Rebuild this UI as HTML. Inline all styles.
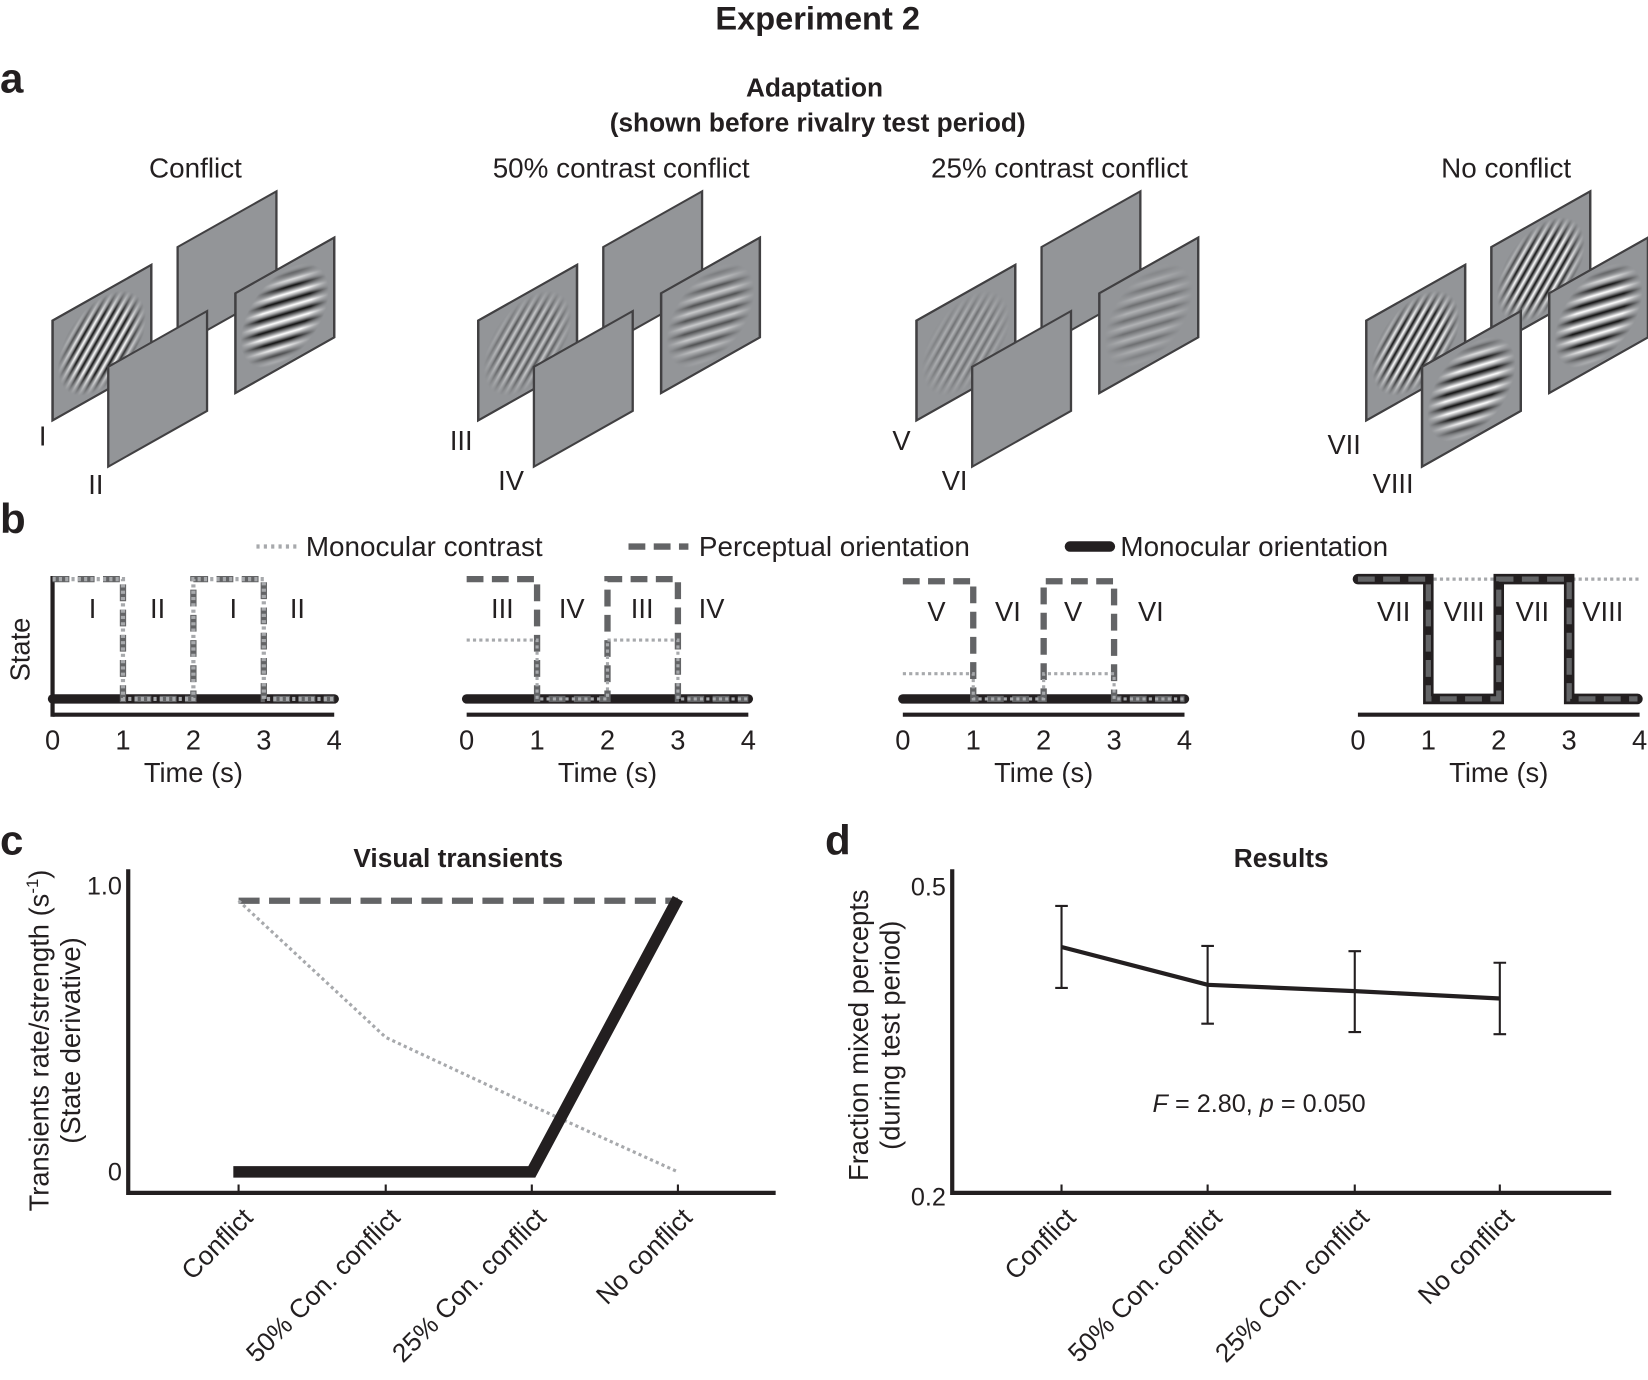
<!DOCTYPE html>
<html><head><meta charset="utf-8"><style>html,body{margin:0;padding:0;background:#fff}svg{display:block}text{font-family:"Liberation Sans",Arial,sans-serif;fill:#231f20}</style></head>
<body>
<svg width="1648" height="1380" viewBox="0 0 1568 1313" xmlns="http://www.w3.org/2000/svg">
<defs>
<linearGradient id="sg" x1="0" x2="1" y1="0" y2="0">
<stop offset="0" stop-color="#9a9b9d"/><stop offset="0.2" stop-color="#fff"/><stop offset="0.45" stop-color="#9a9b9d"/><stop offset="0.7" stop-color="#111"/><stop offset="1" stop-color="#9a9b9d"/>
</linearGradient>
<pattern id="pA" patternUnits="userSpaceOnUse" width="9" height="200" patternTransform="rotate(40)"><rect width="9" height="200" fill="url(#sg)"/></pattern>
<pattern id="pB" patternUnits="userSpaceOnUse" width="200" height="12" patternTransform="rotate(15)"><rect width="200" height="12" fill="url(#sg2)"/></pattern>
<linearGradient id="sg2" x1="0" x2="0" y1="0" y2="1">
<stop offset="0" stop-color="#9a9b9d"/><stop offset="0.2" stop-color="#fff"/><stop offset="0.45" stop-color="#9a9b9d"/><stop offset="0.7" stop-color="#111"/><stop offset="1" stop-color="#9a9b9d"/>
</linearGradient>
<radialGradient id="rg"><stop offset="0" stop-color="#fff"/><stop offset="0.6" stop-color="#fff"/><stop offset="1" stop-color="#000"/></radialGradient>
<mask id="mk" maskUnits="userSpaceOnUse" x="0" y="0" width="94" height="95"><ellipse cx="47" cy="48" rx="42" ry="44" fill="url(#rg)"/></mask>
<g id="pl"><rect width="94" height="95" fill="#939598" stroke="#414042" stroke-width="2.2"/></g>
<g id="gA"><use href="#pl"/><rect width="94" height="95" fill="url(#pA)" mask="url(#mk)"/><rect width="94" height="95" fill="none" stroke="#414042" stroke-width="2.2"/></g>
<g id="gB"><use href="#pl"/><rect width="94" height="95" fill="url(#pB)" mask="url(#mk)"/><rect width="94" height="95" fill="none" stroke="#414042" stroke-width="2.2"/></g>
<g id="gA5"><use href="#pl"/><rect width="94" height="95" fill="url(#pA)" mask="url(#mk)" opacity="0.5"/><rect width="94" height="95" fill="none" stroke="#414042" stroke-width="2.2"/></g>
<g id="gB5"><use href="#pl"/><rect width="94" height="95" fill="url(#pB)" mask="url(#mk)" opacity="0.5"/><rect width="94" height="95" fill="none" stroke="#414042" stroke-width="2.2"/></g>
<g id="gA2"><use href="#pl"/><rect width="94" height="95" fill="url(#pA)" mask="url(#mk)" opacity="0.28"/><rect width="94" height="95" fill="none" stroke="#414042" stroke-width="2.2"/></g>
<g id="gB2"><use href="#pl"/><rect width="94" height="95" fill="url(#pB)" mask="url(#mk)" opacity="0.28"/><rect width="94" height="95" fill="none" stroke="#414042" stroke-width="2.2"/></g>
</defs>

<text x="778" y="28" font-size="31" font-weight="bold" text-anchor="middle">Experiment 2</text>
<text x="0" y="88" font-size="40" font-weight="bold">a</text>
<text x="775" y="92" font-size="25" font-weight="bold" text-anchor="middle">Adaptation</text>
<text x="778" y="125" font-size="25" font-weight="bold" text-anchor="middle">(shown before rivalry test period)</text>
<g font-size="26.5" text-anchor="middle">
<text x="186" y="169">Conflict</text>
<text x="591" y="169">50% contrast conflict</text>
<text x="1008" y="169">25% contrast conflict</text>
<text x="1433" y="169">No conflict</text>
</g>

<g>
<use href="#gA" transform="matrix(1,-0.564,0,1,50,305)"/>
<use href="#pl" transform="matrix(1,-0.564,0,1,169,235)"/>
<use href="#pl" transform="matrix(1,-0.564,0,1,103,349)"/>
<use href="#gB" transform="matrix(1,-0.564,0,1,224,279)"/>
</g>
<g transform="translate(405,0)">
<use href="#gA5" transform="matrix(1,-0.564,0,1,50,305)"/>
<use href="#pl" transform="matrix(1,-0.564,0,1,169,235)"/>
<use href="#pl" transform="matrix(1,-0.564,0,1,103,349)"/>
<use href="#gB5" transform="matrix(1,-0.564,0,1,224,279)"/>
</g>
<g transform="translate(822,0)">
<use href="#gA2" transform="matrix(1,-0.564,0,1,50,305)"/>
<use href="#pl" transform="matrix(1,-0.564,0,1,169,235)"/>
<use href="#pl" transform="matrix(1,-0.564,0,1,103,349)"/>
<use href="#gB2" transform="matrix(1,-0.564,0,1,224,279)"/>
</g>
<g transform="translate(1250,0)">
<use href="#gA" transform="matrix(1,-0.564,0,1,50,305)"/>
<use href="#gA" transform="matrix(1,-0.564,0,1,169,235)"/>
<use href="#gB" transform="matrix(1,-0.564,0,1,103,349)"/>
<use href="#gB" transform="matrix(1,-0.564,0,1,224,279)"/>
</g>
<g font-size="26">
<text x="37" y="424">I</text><text x="84" y="470">II</text>
<text x="428" y="428">III</text><text x="474" y="466">IV</text>
<text x="849" y="428">V</text><text x="896" y="466">VI</text>
<text x="1263" y="432">VII</text><text x="1306" y="469">VIII</text>
</g>

<!-- panel b -->
<text x="0" y="507" font-size="40" font-weight="bold">b</text>
<line x1="244" y1="520" x2="282" y2="520" stroke="#a7a9ac" stroke-width="4" stroke-dasharray="3 4"/>
<text x="291" y="529" font-size="26.5">Monocular contrast</text>
<line x1="598" y1="520" x2="655" y2="520" stroke="#636466" stroke-width="6" stroke-dasharray="16 8"/>
<text x="665" y="529" font-size="26.5">Perceptual orientation</text>
<line x1="1018" y1="520" x2="1056" y2="520" stroke="#231f20" stroke-width="10" stroke-linecap="round"/>
<text x="1066" y="529" font-size="26.5">Monocular orientation</text>
<text transform="translate(28,618) rotate(-90)" font-size="26" text-anchor="middle">State</text>

<g transform="translate(50,0)">
<line x1="0" y1="548" x2="0" y2="682" stroke="#231f20" stroke-width="4"/>
<line x1="0" y1="680" x2="268" y2="680" stroke="#231f20" stroke-width="4"/>
<line x1="0" y1="665" x2="268" y2="665" stroke="#231f20" stroke-width="9" stroke-linecap="round"/>
<polyline points="0,551 67,551 67,665 134,665 134,551 201,551 201,665 268,665" fill="none" stroke="#636466" stroke-width="6" stroke-dasharray="16 8"/>
<polyline points="0,551 67,551 67,665 134,665 134,551 201,551 201,665 268,665" fill="none" stroke="#a7a9ac" stroke-width="4" stroke-dasharray="3 3"/>
<g font-size="26" text-anchor="middle"><text x="38" y="588">I</text><text x="100" y="588">II</text><text x="172" y="588">I</text><text x="233" y="588">II</text></g>
</g>
<g transform="translate(444,0)">
<line x1="0" y1="680" x2="268" y2="680" stroke="#231f20" stroke-width="4"/>
<line x1="0" y1="665" x2="268" y2="665" stroke="#231f20" stroke-width="9" stroke-linecap="round"/>
<polyline points="0,551 67,551 67,665 134,665 134,551 201,551 201,665 268,665" fill="none" stroke="#636466" stroke-width="6" stroke-dasharray="16 8"/>
<polyline points="0,609 67,609 67,665 134,665 134,609 201,609 201,665 268,665" fill="none" stroke="#a7a9ac" stroke-width="3" stroke-dasharray="3 3"/>
<g font-size="26" text-anchor="middle"><text x="34" y="588">III</text><text x="100" y="588">IV</text><text x="167" y="588">III</text><text x="233" y="588">IV</text></g>
</g>
<g transform="translate(859,0)">
<line x1="0" y1="680" x2="268" y2="680" stroke="#231f20" stroke-width="4"/>
<line x1="0" y1="665" x2="268" y2="665" stroke="#231f20" stroke-width="9" stroke-linecap="round"/>
<polyline points="0,553 67,553 67,665 134,665 134,553 201,553 201,665 268,665" fill="none" stroke="#636466" stroke-width="6" stroke-dasharray="16 8"/>
<polyline points="0,641 67,641 67,665 134,665 134,641 201,641 201,665 268,665" fill="none" stroke="#a7a9ac" stroke-width="3" stroke-dasharray="3 3"/>
<g font-size="26" text-anchor="middle"><text x="32" y="591">V</text><text x="100" y="591">VI</text><text x="162" y="591">V</text><text x="236" y="591">VI</text></g>
</g>
<g transform="translate(1292,0)">
<line x1="0" y1="680" x2="268" y2="680" stroke="#231f20" stroke-width="4"/>
<line x1="0" y1="551" x2="268" y2="551" stroke="#a7a9ac" stroke-width="3" stroke-dasharray="3 3"/>
<polyline points="0,551 67,551 67,665 134,665 134,551 201,551 201,665 266,665" fill="none" stroke="#231f20" stroke-width="10" stroke-linecap="round"/>
<polyline points="0,551 67,551 67,665 134,665 134,551 201,551 201,665 266,665" fill="none" stroke="#636466" stroke-width="5" stroke-dasharray="16 8"/>
<g font-size="26" text-anchor="middle"><text x="34" y="591">VII</text><text x="101" y="591">VIII</text><text x="166" y="591">VII</text><text x="233" y="591">VIII</text></g>
</g>
<g font-size="26" text-anchor="middle">
<g transform="translate(50,0)"><text x="0" y="713">0</text><text x="67" y="713">1</text><text x="134" y="713">2</text><text x="201" y="713">3</text><text x="268" y="713">4</text><text x="134" y="744">Time (s)</text></g>
<g transform="translate(444,0)"><text x="0" y="713">0</text><text x="67" y="713">1</text><text x="134" y="713">2</text><text x="201" y="713">3</text><text x="268" y="713">4</text><text x="134" y="744">Time (s)</text></g>
<g transform="translate(859,0)"><text x="0" y="713">0</text><text x="67" y="713">1</text><text x="134" y="713">2</text><text x="201" y="713">3</text><text x="268" y="713">4</text><text x="134" y="744">Time (s)</text></g>
<g transform="translate(1292,0)"><text x="0" y="713">0</text><text x="67" y="713">1</text><text x="134" y="713">2</text><text x="201" y="713">3</text><text x="268" y="713">4</text><text x="134" y="744">Time (s)</text></g>
</g>

<!-- panel c -->
<text x="0" y="813" font-size="40" font-weight="bold">c</text>
<text x="436" y="825" font-size="25" font-weight="bold" text-anchor="middle">Visual transients</text>
<path d="M122,827 V1135 H738" fill="none" stroke="#231f20" stroke-width="4"/>
<text x="116" y="851" font-size="24" text-anchor="end">1.0</text>
<text x="116" y="1123" font-size="24" text-anchor="end">0</text>
<text transform="translate(46,990) rotate(-90)" font-size="26" text-anchor="middle">Transients rate/strength (s<tspan font-size="16" dy="-10">-1</tspan><tspan dy="10">)</tspan></text>
<text transform="translate(76,990) rotate(-90)" font-size="26" text-anchor="middle">(State derivative)</text>
<g stroke="#231f20" stroke-width="2"><line x1="227" y1="1135" x2="227" y2="1127"/><line x1="367" y1="1135" x2="367" y2="1127"/><line x1="506" y1="1135" x2="506" y2="1127"/><line x1="645" y1="1135" x2="645" y2="1127"/></g>
<line x1="227" y1="857" x2="645" y2="857" stroke="#636466" stroke-width="6" stroke-dasharray="20 9"/>
<polyline points="227,857 367,987 506,1052 645,1115" fill="none" stroke="#a7a9ac" stroke-width="3" stroke-dasharray="3 3"/>
<polyline points="222,1115 506,1115 645,855" fill="none" stroke="#231f20" stroke-width="11"/>
<g font-size="25" text-anchor="end">
<text transform="translate(242,1160) rotate(-45)">Conflict</text>
<text transform="translate(382,1160) rotate(-45)">50% Con. conflict</text>
<text transform="translate(521,1160) rotate(-45)">25% Con. conflict</text>
<text transform="translate(660,1160) rotate(-45)">No conflict</text>
</g>

<!-- panel d -->
<text x="785" y="813" font-size="40" font-weight="bold">d</text>
<text x="1219" y="825" font-size="25" font-weight="bold" text-anchor="middle">Results</text>
<path d="M906,827 V1135 H1533" fill="none" stroke="#231f20" stroke-width="4"/>
<text x="900" y="852" font-size="24" text-anchor="end">0.5</text>
<text x="900" y="1147" font-size="24" text-anchor="end">0.2</text>
<text transform="translate(826,985) rotate(-90)" font-size="26" text-anchor="middle">Fraction mixed percepts</text>
<text transform="translate(856,985) rotate(-90)" font-size="26" text-anchor="middle">(during test period)</text>
<g stroke="#231f20" stroke-width="2"><line x1="1010" y1="1135" x2="1010" y2="1127"/><line x1="1149" y1="1135" x2="1149" y2="1127"/><line x1="1289" y1="1135" x2="1289" y2="1127"/><line x1="1427" y1="1135" x2="1427" y2="1127"/></g>
<g stroke="#231f20" stroke-width="2" fill="none">
<path d="M1010,862 V940 M1004,862 H1016 M1004,940 H1016"/>
<path d="M1149,900 V974 M1143,900 H1155 M1143,974 H1155"/>
<path d="M1289,905 V982 M1283,905 H1295 M1283,982 H1295"/>
<path d="M1427,916 V984 M1421,916 H1433 M1421,984 H1433"/>
</g>
<polyline points="1010,901 1149,937 1289,943 1427,950" fill="none" stroke="#231f20" stroke-width="4"/>
<text x="1198" y="1058" font-size="24" text-anchor="middle"><tspan font-style="italic">F</tspan> = 2.80, <tspan font-style="italic">p</tspan> = 0.050</text>
<g font-size="25" text-anchor="end">
<text transform="translate(1025,1160) rotate(-45)">Conflict</text>
<text transform="translate(1164,1160) rotate(-45)">50% Con. conflict</text>
<text transform="translate(1304,1160) rotate(-45)">25% Con. conflict</text>
<text transform="translate(1442,1160) rotate(-45)">No conflict</text>
</g>
</svg>
</body></html>
